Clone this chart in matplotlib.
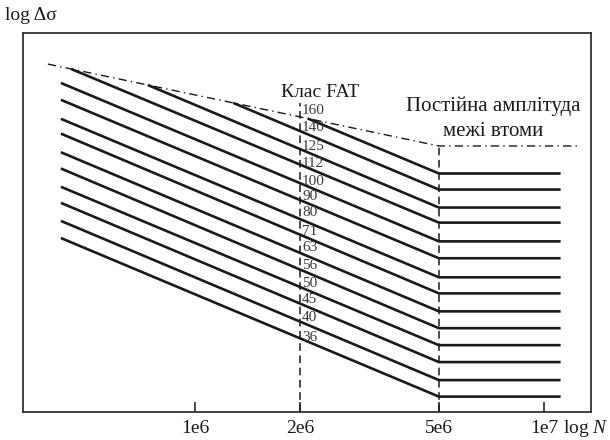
import numpy as np
import matplotlib
matplotlib.use('Agg')
import matplotlib.pyplot as plt

plt.rcParams['font.family'] = ['Liberation Serif', 'DejaVu Serif']
plt.rcParams['mathtext.fontset'] = 'custom'
plt.rcParams['mathtext.it'] = 'Liberation Serif:italic'
plt.rcParams['mathtext.rm'] = 'Liberation Serif'

# Класи FAT (підписи біля лінії N = 2e6)
fat = [160, 140, 125, 112, 100, 90, 80, 71, 63, 56, 50, 45, 40, 36]
# рівні підписів на осі log Δσ (умовні одиниці)
label_s = [180, 160, 141, 126, 111.5, 101.5, 91, 80, 72, 64, 56.5, 51, 45, 39.6]
# значення ліній на лівому краю (N = 4.13e5) та у точці зламу (N = 5e6)
s_start = [340, 307, 272, 244, 216, 193, 170, 154, 136, 122, 108, 97, 86, 76.7]
s_knee = [118, 106, 94, 85, 75, 67, 59, 53, 47, 42, 37.5, 33.5, 29.7, 26.6]

n_start = 4.13e5
n_fat = 2e6
n_knee = 5e6
n_end = 1.116e7

# штрих-пунктирна огинаюча
dd_n = [3.79e5, 5e6, 1.26e7]
dd_s = [245, 141.8, 141.8]

xticks = [1e6, 2e6, 5e6, 1e7]
xticklabels = ['1e6', '2e6', '5e6', '1e7']

fig = plt.figure(figsize=(6.1, 4.4), dpi=100)
ax = fig.add_axes([0.0372, 0.0636, 0.9317, 0.8614])
ax.set_xscale('log')
ax.set_yscale('log')
ax.set_xlim(3.21e5, 1.364e7)
ax.set_ylim(24.0, 301.5)

# нахил огинаючої в log-log
lx0, lx1 = np.log10(dd_n[0]), np.log10(dd_n[1])
ly0, ly1 = np.log10(dd_s[0]), np.log10(dd_s[1])
ke = (ly1 - ly0) / (lx1 - lx0)

for s0, sk in zip(s_start, s_knee):
    ls, lk = np.log10(s0), np.log10(sk)
    k = (lk - ls) / (np.log10(n_knee) - np.log10(n_start))
    # точка перетину з огинаючою (лінія починається не вище неї)
    lx = (ly1 - lk + k * np.log10(n_knee) - ke * lx1) / (k - ke)
    lx = max(lx, np.log10(n_start))
    ly = lk + k * (lx - np.log10(n_knee))
    ax.plot([10 ** lx, n_knee, n_end], [10 ** ly, sk, sk], color='#1a1a1a', lw=1.9,
            solid_capstyle='butt', solid_joinstyle='miter')

for f, s in zip(fat, label_s):
    ax.annotate(str(f), (n_fat, s), xytext=(1.5, 0), textcoords='offset points',
                ha='left', va='center', fontsize=11, color='#3a3a3a')

ax.plot(dd_n, dd_s, color='#1a1a1a', lw=1.0, dashes=(6, 3, 1, 3))
ax.plot([n_fat, n_fat], [24.0, 189], color='#1a1a1a', lw=1.1, dashes=(5, 3))
ax.plot([n_knee, n_knee], [24.0, dd_s[1]], color='#1a1a1a', lw=1.1, dashes=(5, 3))

ax.text(2.28e6, 202, 'Клас FAT', ha='center', va='center', fontsize=14,
        color='#1a1a1a')
ax.text(7.15e6, 184.4, 'Постійна амплітуда', ha='center', va='center',
        fontsize=15, color='#1a1a1a')
ax.text(7.15e6, 156.1, 'межі втоми', ha='center', va='center',
        fontsize=15, color='#1a1a1a')

ax.set_xticks(xticks)
ax.set_xticklabels(xticklabels)
ax.xaxis.set_minor_locator(matplotlib.ticker.NullLocator())
ax.yaxis.set_minor_locator(matplotlib.ticker.NullLocator())
ax.set_yticks([])
ax.tick_params(axis='x', direction='in', length=7.5, width=1.1, labelsize=14,
               pad=6, colors='#1a1a1a')
for sp in ax.spines.values():
    sp.set_linewidth(1.3)
    sp.set_color('#333333')

fig.text(0.008, 0.965, 'log Δσ', ha='left', va='center', fontsize=14,
         color='#1a1a1a')
fig.text(0.923, 0.027, 'log $N$', ha='left', va='center', fontsize=14,
         color='#1a1a1a')

fig.savefig('out.png', dpi=100)
